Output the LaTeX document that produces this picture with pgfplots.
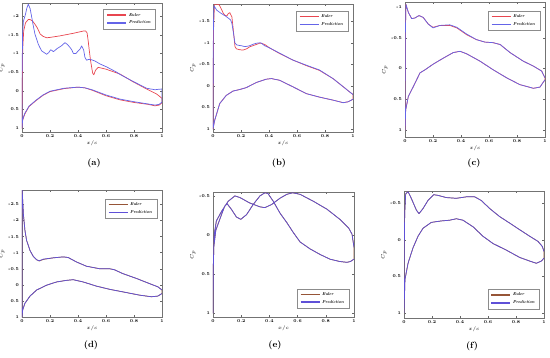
\documentclass[border=0pt]{standalone}
\usepackage{pgfplots}
\pgfplotsset{compat=1.18}
\definecolor{eul}{RGB}{232,70,80}
\definecolor{pre}{RGB}{100,100,232}
\definecolor{preb}{RGB}{95,80,215}
\definecolor{eulb}{RGB}{150,85,55}
\pgfplotsset{
 cpaxis/.style={
  scale only axis, width=140pt, y dir=reverse,
  xmin=0, xmax=1, xtick={0,0.2,0.4,0.6,0.8,1},
  xticklabels={0,0.2,0.4,0.6,0.8,1},
  axis line style={black!55, line width=0.9pt},
  tick style={black!60, line width=0.4pt},
  major tick length=2pt, minor tick num=0,
  tick label style={font=\fontsize{4.3}{4.8}\selectfont\bfseries},
  /pgf/number format/assume math mode=true,
  xticklabel style={yshift=1pt},
  yticklabel style={xshift=0.5pt},
  xlabel={$x/c$}, ylabel={$C_p$},
  label style={font=\fontsize{5}{5.5}\selectfont},
  xlabel style={yshift=4pt},
  ylabel style={yshift=-3pt},
  legend style={draw=black!45, line width=0.4pt, fill=white,
    font=\fontsize{4.2}{5}\selectfont\bfseries\itshape,
    inner xsep=3pt, inner ysep=1.5pt, row sep=-0.5pt,
    cells={anchor=west}},
  legend cell align=left,
  legend image code/.code={\draw[#1, line width=1.2pt] (0pt,0.3pt) -- (19pt,0.3pt);},
  every axis plot/.append style={line width=0.7pt, line join=round},
 },
 eu/.style={draw=eul},
 pr/.style={draw=pre},
 eub/.style={draw=eulb},
 prb/.style={draw=preb},
}
\begin{document}
\begin{tikzpicture}
\useasboundingbox (0pt,0pt) rectangle (550pt,357pt);

% ---------------- (a) ----------------
\begin{axis}[cpaxis, at={(22pt,225pt)}, anchor=south west, height=129pt,
  ymin=-2.35, ymax=1.1, ytick={-2,-1.5,-1,-0.5,0,0.5,1},
  legend style={at={(0.955,0.95)}, anchor=north east}]
\addplot[eu] coordinates {
(1,0.2)(0.96,0.08)(0.89,-0.05)(0.79,-0.25)(0.7,-0.45)(0.6,-0.58)(0.544,-0.63)(0.525,-0.55)(0.513,-0.43)(0.505,-0.47)(0.49,-0.8)(0.48,-1.1)(0.473,-1.33)(0.465,-1.55)(0.455,-1.6)(0.438,-1.6)(0.367,-1.54)(0.27,-1.47)(0.2,-1.43)(0.176,-1.42)(0.15,-1.46)(0.13,-1.52)(0.11,-1.68)(0.093,-1.78)(0.075,-1.87)(0.057,-1.91)(0.045,-1.91)(0.025,-1.82)(0.012,-1.6)(0.005,-1.1)(0.002,-0.2)(0,1)
(0.005,0.78)(0.02,0.62)(0.05,0.42)(0.1,0.26)(0.15,0.12)(0.2,0.02)(0.3,-0.06)(0.4,-0.1)(0.45,-0.08)(0.5,-0.02)(0.6,0.13)(0.7,0.24)(0.8,0.31)(0.9,0.36)(0.95,0.4)(0.98,0.38)(1,0.32)(1,0.2)};
\addplot[pr] coordinates {
(1,0.3)(1,-0.05)(0.97,-0.04)(0.95,-0.03)(0.89,-0.07)(0.79,-0.26)(0.7,-0.44)(0.676,-0.5)(0.605,-0.64)(0.557,-0.72)(0.52,-0.8)(0.498,-0.83)(0.475,-0.84)(0.462,-0.82)(0.45,-0.89)(0.44,-1.1)(0.426,-1.2)(0.415,-1.12)(0.402,-1.07)(0.385,-1.0)(0.367,-1.0)(0.355,-1.1)(0.343,-1.16)(0.325,-1.24)(0.307,-1.29)(0.28,-1.2)(0.25,-1.13)(0.235,-1.08)(0.224,-1.05)(0.214,-1.08)(0.205,-1.1)(0.19,-1.02)(0.176,-0.98)(0.16,-1.02)(0.14,-1.07)(0.125,-1.18)(0.116,-1.25)(0.105,-1.38)(0.093,-1.51)(0.08,-1.75)(0.069,-1.98)(0.058,-2.2)(0.045,-2.32)(0.035,-2.22)(0.025,-2.05)(0.01,-1.86)(0.004,-1.5)(0.001,-0.5)(0,1)
(0.005,0.76)(0.02,0.6)(0.05,0.41)(0.1,0.25)(0.15,0.11)(0.2,0.01)(0.3,-0.07)(0.4,-0.1)(0.45,-0.08)(0.5,-0.03)(0.6,0.11)(0.7,0.22)(0.8,0.29)(0.9,0.35)(0.95,0.38)(0.98,0.36)(1,0.3)};
\legend{Euler,Prediction}
\end{axis}

% ---------------- (b) ----------------
\begin{axis}[cpaxis, at={(213pt,225pt)}, anchor=south west, height=128pt,
  ymin=-1.9, ymax=1.07, ytick={-1.5,-1,-0.5,0,0.5,1},
  legend style={at={(0.965,0.944)}, anchor=north east}]
\addplot[eu] coordinates {
(1,0.2)(0.976,0.14)(0.93,0.02)(0.857,-0.17)(0.76,-0.36)(0.667,-0.47)(0.57,-0.6)(0.476,-0.75)(0.405,-0.88)(0.37,-0.96)(0.345,-0.99)(0.333,-0.99)(0.3,-0.95)(0.264,-0.91)(0.24,-0.86)(0.214,-0.83)(0.19,-0.84)(0.167,-0.86)(0.157,-0.91)(0.145,-1.3)(0.135,-1.6)(0.12,-1.7)(0.11,-1.68)(0.098,-1.62)(0.085,-1.64)(0.074,-1.68)(0.06,-1.78)(0.045,-1.88)(0.02,-1.9)(0.01,-1.88)(0.004,-1.3)(0.001,0)(0,1)
(0.012,0.8)(0.048,0.41)(0.095,0.22)(0.143,0.12)(0.19,0.085)(0.238,0.04)(0.31,-0.08)(0.38,-0.155)(0.417,-0.17)(0.476,-0.13)(0.57,0.02)(0.667,0.18)(0.76,0.26)(0.857,0.33)(0.93,0.39)(0.964,0.37)(1,0.31)(1,0.2)};
\addplot[pr] coordinates {
(1,0.2)(0.976,0.14)(0.93,0.02)(0.857,-0.17)(0.76,-0.37)(0.667,-0.48)(0.57,-0.6)(0.476,-0.76)(0.405,-0.88)(0.37,-0.93)(0.345,-0.99)(0.336,-1.0)(0.31,-0.99)(0.29,-0.97)(0.26,-0.93)(0.228,-0.91)(0.205,-0.93)(0.185,-0.94)(0.17,-0.95)(0.157,-0.99)(0.145,-1.25)(0.135,-1.45)(0.126,-1.53)(0.11,-1.57)(0.09,-1.62)(0.074,-1.65)(0.05,-1.7)(0.026,-1.76)(0.007,-1.86)(0.003,-1.4)(0.001,0)(0,1)
(0.012,0.8)(0.048,0.41)(0.095,0.22)(0.143,0.12)(0.19,0.085)(0.238,0.04)(0.31,-0.08)(0.38,-0.155)(0.417,-0.17)(0.476,-0.13)(0.57,0.02)(0.667,0.18)(0.76,0.26)(0.857,0.33)(0.93,0.39)(0.964,0.37)(1,0.31)};
\legend{Euler,Prediction}
\end{axis}

% ---------------- (c) ----------------
\begin{axis}[cpaxis, at={(405pt,220pt)}, anchor=south west, height=135pt,
  ymin=-1.08, ymax=1.11, ytick={-1,-0.5,0,0.5,1},
  legend style={at={(0.965,0.934)}, anchor=north east}]
\addplot[eu] coordinates {
(1,0.15)(0.976,0.04)(0.917,-0.04)(0.845,-0.12)(0.75,-0.26)(0.68,-0.39)(0.63,-0.42)(0.57,-0.43)(0.51,-0.47)(0.44,-0.55)(0.37,-0.66)(0.32,-0.7)(0.25,-0.7)(0.2,-0.67)(0.167,-0.72)(0.13,-0.83)(0.1,-0.86)(0.07,-0.82)(0.048,-0.81)(0.024,-0.91)(0.007,-1.04)(0.002,-0.5)(0,1)
(0.005,0.67)(0.024,0.45)(0.06,0.29)(0.107,0.07)(0.143,0.02)(0.2,-0.07)(0.274,-0.17)(0.345,-0.26)(0.393,-0.28)(0.44,-0.24)(0.536,-0.12)(0.63,0.02)(0.726,0.15)(0.82,0.26)(0.917,0.32)(0.964,0.3)(1,0.18)(1,0.15)};
\addplot[pr] coordinates {
(1,0.15)(0.976,0.04)(0.917,-0.04)(0.845,-0.12)(0.75,-0.26)(0.68,-0.39)(0.63,-0.42)(0.57,-0.43)(0.51,-0.47)(0.44,-0.56)(0.37,-0.67)(0.32,-0.71)(0.25,-0.7)(0.2,-0.66)(0.167,-0.72)(0.13,-0.83)(0.1,-0.86)(0.07,-0.82)(0.048,-0.81)(0.024,-0.91)(0.007,-1.04)(0.002,-0.5)(0,1)
(0.005,0.67)(0.024,0.45)(0.06,0.29)(0.107,0.07)(0.143,0.02)(0.2,-0.07)(0.274,-0.17)(0.345,-0.26)(0.393,-0.28)(0.44,-0.24)(0.536,-0.12)(0.63,0.02)(0.726,0.15)(0.82,0.26)(0.917,0.32)(0.964,0.3)(1,0.18)};
\legend{Euler,Prediction}
\end{axis}

% ---------------- (d) ----------------
\begin{axis}[cpaxis, at={(22pt,40pt)}, anchor=south west, height=127pt,
  ymin=-2.95, ymax=1.0, ytick={-2.5,-2,-1.5,-1,-0.5,0,0.5,1},
  legend style={at={(0.965,0.93)}, anchor=north east}]
\addplot[eub] coordinates {
(1,0.16)(0.97,0.06)(0.91,-0.04)(0.817,-0.2)(0.72,-0.35)(0.66,-0.47)(0.627,-0.5)(0.556,-0.5)(0.46,-0.58)(0.39,-0.71)(0.33,-0.85)(0.295,-0.87)(0.223,-0.84)(0.152,-0.79)(0.123,-0.74)(0.105,-0.78)(0.08,-0.89)(0.057,-1.07)(0.033,-1.38)(0.021,-1.69)(0.01,-2.2)(0.003,-2.8)(0.001,-2.95)(0,1)
(0.005,0.78)(0.02,0.58)(0.057,0.35)(0.105,0.16)(0.176,0.01)(0.247,-0.09)(0.318,-0.14)(0.366,-0.16)(0.437,-0.09)(0.532,0.04)(0.627,0.14)(0.746,0.24)(0.84,0.32)(0.924,0.37)(0.97,0.35)(1,0.27)(1,0.16)};
\addplot[prb] coordinates {
(1,0.16)(0.97,0.06)(0.91,-0.04)(0.817,-0.2)(0.72,-0.35)(0.66,-0.47)(0.627,-0.5)(0.556,-0.5)(0.46,-0.58)(0.39,-0.71)(0.33,-0.85)(0.295,-0.87)(0.223,-0.84)(0.152,-0.8)(0.123,-0.75)(0.105,-0.78)(0.08,-0.89)(0.057,-1.07)(0.033,-1.38)(0.021,-1.69)(0.01,-2.2)(0.003,-2.8)(0.001,-2.95)(0,1)
(0.005,0.78)(0.02,0.58)(0.057,0.35)(0.105,0.16)(0.176,0.01)(0.247,-0.09)(0.318,-0.14)(0.366,-0.16)(0.437,-0.09)(0.532,0.04)(0.627,0.14)(0.746,0.24)(0.84,0.32)(0.924,0.37)(0.97,0.35)(1,0.27)};
\legend{Euler,Prediction}
\end{axis}

% ---------------- (e) ----------------
\begin{axis}[cpaxis, at={(213pt,40pt)}, anchor=south west, height=125pt, width=141pt,
  ymin=-0.55, ymax=1.05, ytick={-0.5,0,0.5,1},
  legend style={at={(0.965,0.07)}, anchor=south east}]
\addplot[eub] coordinates {
(1,0.16)(0.986,-0.01)(0.962,-0.09)(0.9,-0.2)(0.808,-0.33)(0.713,-0.43)(0.618,-0.52)(0.565,-0.54)(0.523,-0.52)(0.475,-0.47)(0.416,-0.39)(0.368,-0.35)(0.333,-0.36)(0.26,-0.41)(0.19,-0.48)(0.155,-0.5)(0.107,-0.43)(0.06,-0.3)(0.024,-0.18)(0.008,0.0)(0.002,0.4)(0,1)
(0.002,0.45)(0.006,0.15)(0.02,-0.06)(0.048,-0.2)(0.083,-0.37)(0.1,-0.4)(0.13,-0.33)(0.166,-0.23)(0.197,-0.2)(0.238,-0.26)(0.285,-0.39)(0.333,-0.5)(0.368,-0.54)(0.39,-0.53)(0.428,-0.43)(0.475,-0.28)(0.523,-0.16)(0.57,-0.03)(0.618,0.09)(0.69,0.18)(0.76,0.25)(0.83,0.31)(0.9,0.34)(0.95,0.35)(0.974,0.34)(1,0.31)(1,0.16)};
\addplot[prb] coordinates {
(1,0.16)(0.986,-0.01)(0.962,-0.09)(0.9,-0.2)(0.808,-0.33)(0.713,-0.43)(0.618,-0.52)(0.565,-0.54)(0.523,-0.52)(0.475,-0.47)(0.416,-0.39)(0.368,-0.35)(0.333,-0.36)(0.26,-0.41)(0.19,-0.48)(0.155,-0.5)(0.107,-0.43)(0.06,-0.3)(0.024,-0.18)(0.008,0.0)(0.002,0.4)(0,1)
(0.002,0.45)(0.006,0.15)(0.02,-0.06)(0.048,-0.2)(0.083,-0.37)(0.1,-0.4)(0.13,-0.33)(0.166,-0.23)(0.197,-0.2)(0.238,-0.26)(0.285,-0.39)(0.333,-0.5)(0.368,-0.54)(0.39,-0.53)(0.428,-0.43)(0.475,-0.28)(0.523,-0.16)(0.57,-0.03)(0.618,0.09)(0.69,0.18)(0.76,0.25)(0.83,0.31)(0.9,0.34)(0.95,0.35)(0.974,0.34)(1,0.31)};
\legend{Euler,Prediction}
\end{axis}

% ---------------- (f) ----------------
\begin{axis}[cpaxis, at={(404pt,39pt)}, anchor=south west, height=127pt,
  ymin=-0.67, ymax=1.07, ytick={-0.5,0,0.5,1},
  legend style={at={(0.97,0.07)}, anchor=south east}]
\addplot[eub] coordinates {
(1,0.16)(0.988,0.09)(0.957,0.02)(0.898,-0.05)(0.826,-0.14)(0.755,-0.23)(0.683,-0.32)(0.612,-0.43)(0.552,-0.54)(0.505,-0.59)(0.445,-0.59)(0.374,-0.57)(0.302,-0.58)(0.243,-0.61)(0.212,-0.62)(0.171,-0.54)(0.136,-0.43)(0.107,-0.36)(0.088,-0.41)(0.052,-0.57)(0.029,-0.66)(0.012,-0.63)(0.005,-0.36)(0.001,0.3)(0,1)
(0.007,0.54)(0.029,0.32)(0.064,0.11)(0.1,-0.05)(0.136,-0.16)(0.195,-0.24)(0.267,-0.26)(0.326,-0.27)(0.374,-0.29)(0.421,-0.27)(0.493,-0.18)(0.564,-0.05)(0.636,0.05)(0.731,0.14)(0.826,0.24)(0.898,0.29)(0.945,0.32)(0.981,0.29)(1,0.25)(1,0.16)};
\addplot[prb] coordinates {
(1,0.16)(0.988,0.09)(0.957,0.02)(0.898,-0.05)(0.826,-0.14)(0.755,-0.23)(0.683,-0.32)(0.612,-0.43)(0.552,-0.54)(0.505,-0.59)(0.445,-0.59)(0.374,-0.57)(0.302,-0.58)(0.243,-0.61)(0.212,-0.62)(0.171,-0.54)(0.136,-0.43)(0.107,-0.36)(0.088,-0.41)(0.052,-0.57)(0.029,-0.66)(0.012,-0.63)(0.005,-0.36)(0.001,0.3)(0,1)
(0.007,0.54)(0.029,0.32)(0.064,0.11)(0.1,-0.05)(0.136,-0.16)(0.195,-0.24)(0.267,-0.26)(0.326,-0.27)(0.374,-0.29)(0.421,-0.27)(0.493,-0.18)(0.564,-0.05)(0.636,0.05)(0.731,0.14)(0.826,0.24)(0.898,0.29)(0.945,0.32)(0.981,0.29)(1,0.25)};
\legend{Euler,Prediction}
\end{axis}

\node[font=\fontsize{9}{10}\selectfont\bfseries] at (94pt,194pt) {(a)};
\node[font=\fontsize{9}{10}\selectfont\bfseries] at (279pt,194pt) {(b)};
\node[font=\fontsize{9}{10}\selectfont\bfseries] at (474pt,194pt) {(c)};
\node[font=\fontsize{9}{10}\selectfont\bfseries] at (91pt,12pt) {(d)};
\node[font=\fontsize{9}{10}\selectfont\bfseries] at (275pt,12pt) {(e)};
\node[font=\fontsize{9}{10}\selectfont\bfseries] at (472pt,11pt) {(f)};
\end{tikzpicture}
\end{document}
